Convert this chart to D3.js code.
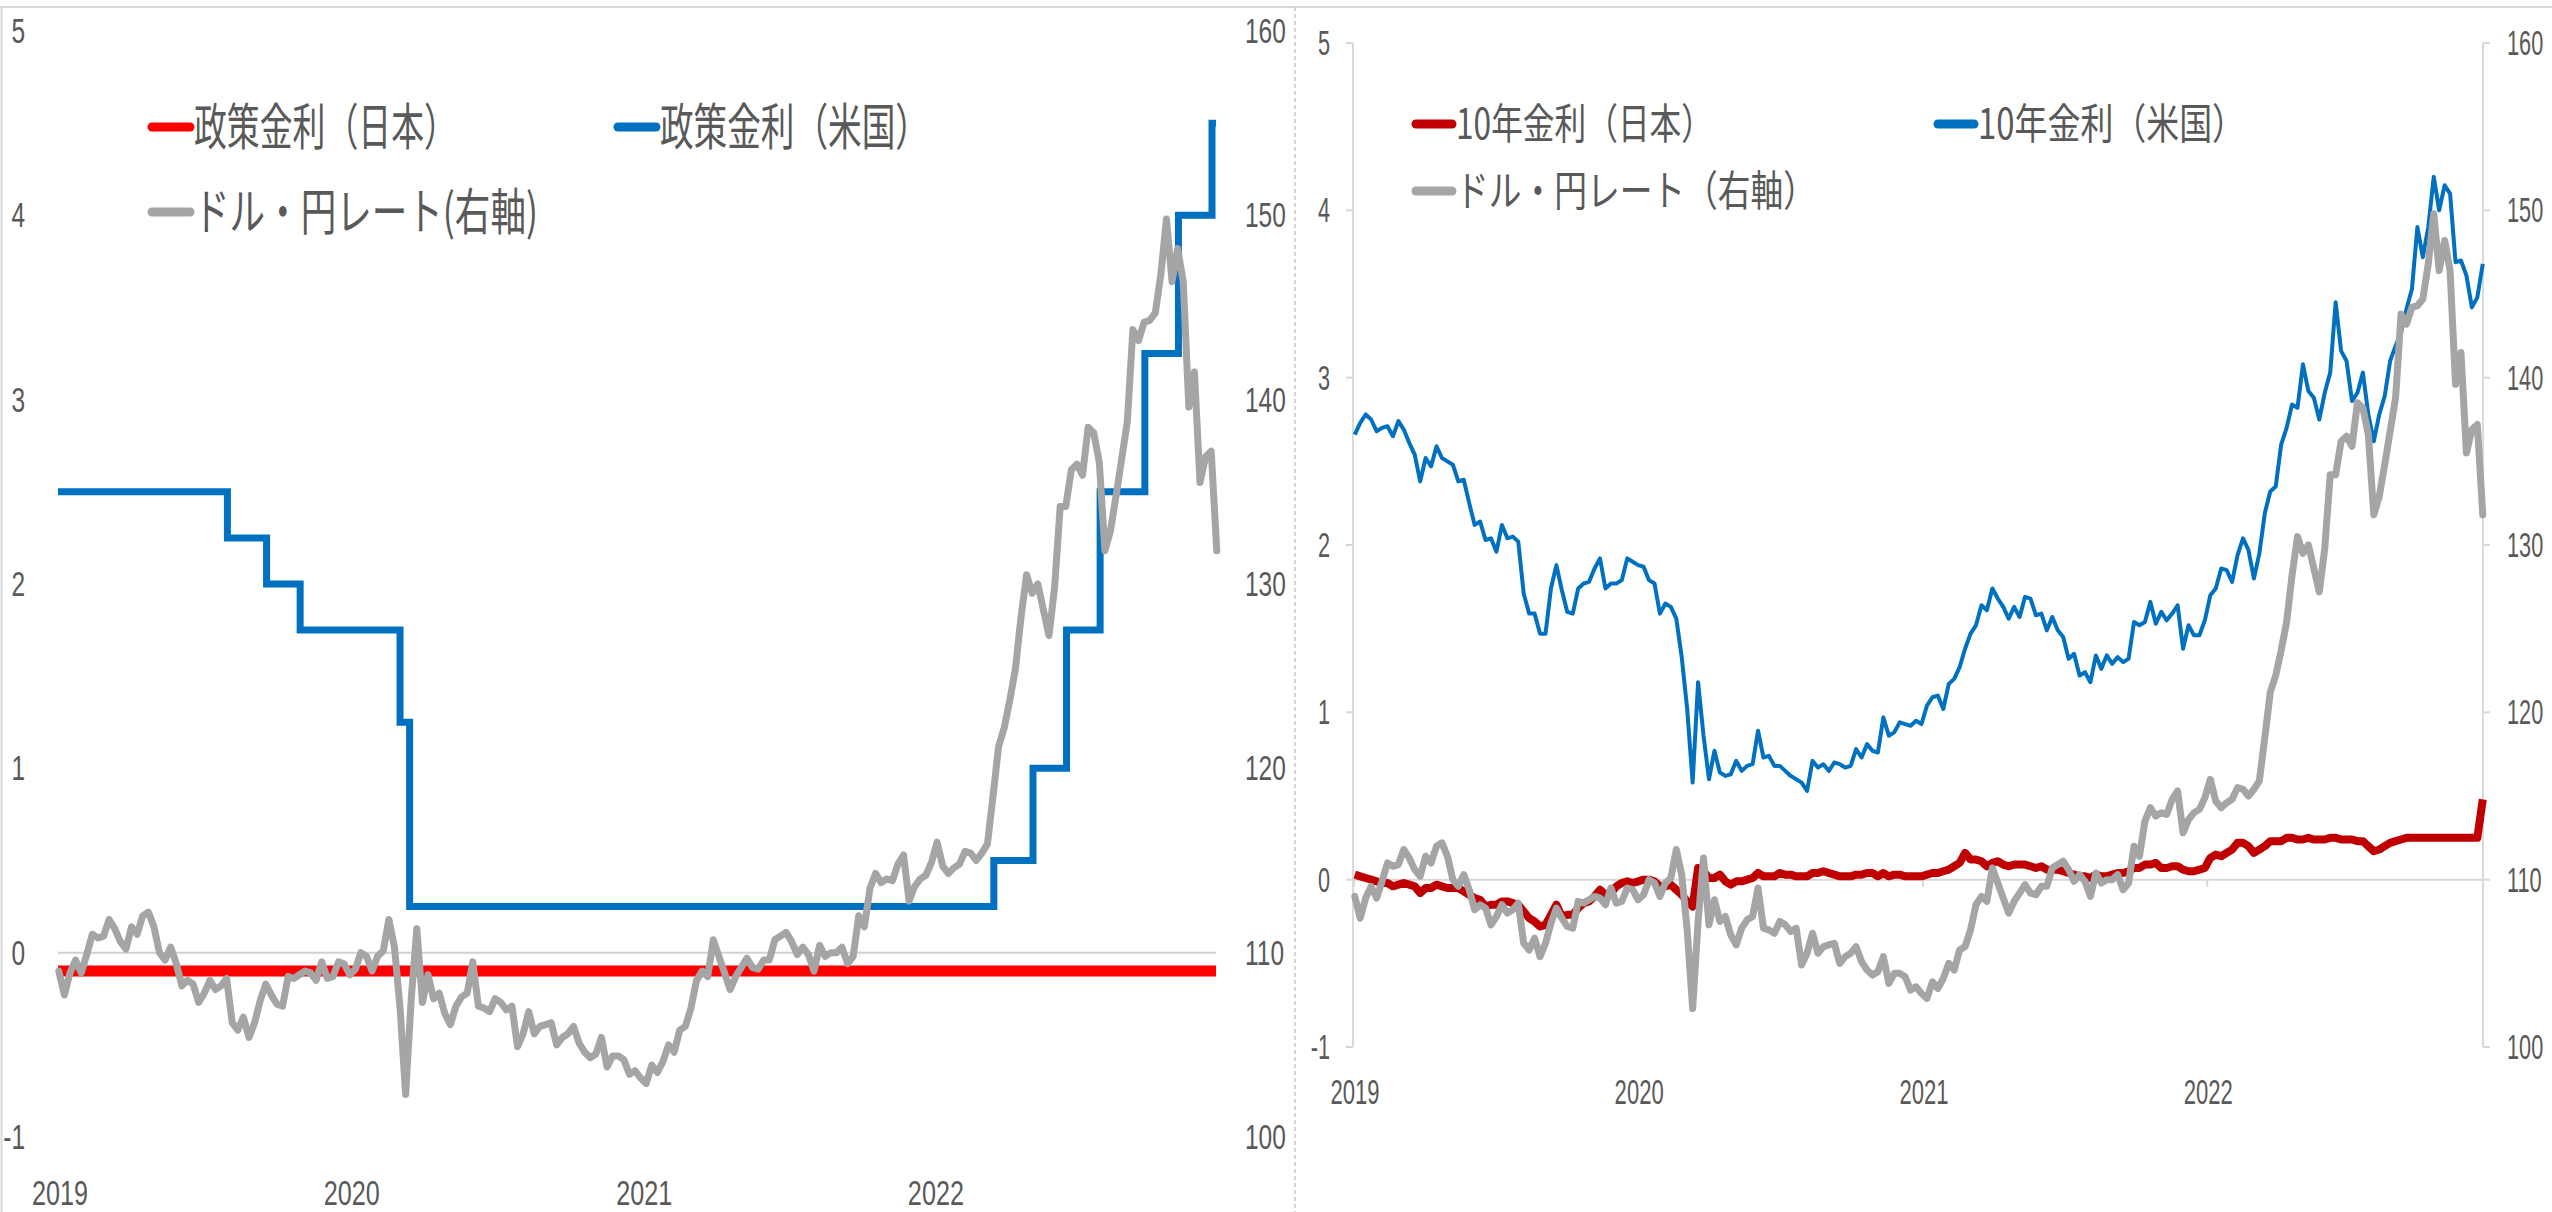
<!DOCTYPE html>
<html>
<head>
<meta charset="utf-8">
<script src="https://cdn.jsdelivr.net/npm/d3@7"></script>
<style>
  html, body { margin: 0; padding: 0; background: #fff; }
  svg { display: block; }
</style>
</head>
<body>
<svg id="chart" width="2552" height="1212"></svg>
<script>
// ---- data -------------------------------------------------------------
// weekly observations (Wednesdays) from 2019-01-02 to 2022-12-20
const firstWeek = "2019-01-02";
const lastDay = "2022-12-20";
const yearLabels = ["2019", "2020", "2021", "2022"];
const rateTicks = [-1, 0, 1, 2, 3, 4, 5];
const fxTicks = [100, 110, 120, 130, 140, 150, 160];

// USD/JPY
const usdjpy = [
  // 2019
  109.0, 107.7, 108.9, 109.6, 108.9, 109.9, 111.0, 110.8, 110.9, 111.8,
  111.3, 110.6, 110.2, 111.4, 111.0, 112.0, 112.2, 111.4, 110.0, 109.6,
  110.3, 109.4, 108.2, 108.5, 108.3, 107.3, 107.8, 108.5, 108.0, 108.2,
  108.6, 106.2, 105.8, 106.5, 105.4, 106.2, 107.4, 108.3, 107.7, 107.2,
  107.1, 108.7, 108.6, 108.8, 109.0, 108.9, 108.5, 109.5, 108.6, 108.7,
  109.5, 109.4,
  // 2020
  108.8, 109.1, 110.0, 109.8, 109.0, 109.8, 110.1, 111.8, 110.3, 107.0,
  102.3, 107.5, 111.3, 107.3, 108.8, 107.5, 107.8, 106.7, 106.1, 107.1,
  107.6, 107.8, 109.5, 107.1, 107.0, 106.8, 107.5, 107.3, 106.9, 107.1,
  104.9, 105.6, 106.8, 105.6, 106.0, 106.1, 106.2, 105.0, 105.4, 105.6,
  106.0, 105.1, 104.6, 104.3, 104.5, 105.4, 103.8, 104.4, 104.4, 104.2,
  103.4, 103.6,
  // 2021
  103.2, 102.9, 103.9, 103.5, 104.1, 105.0, 104.6, 105.8, 106.0, 107.0,
  108.5, 109.0, 108.7, 110.7, 109.8, 108.9, 108.0, 108.7, 109.2, 109.7,
  109.2, 109.1, 109.6, 109.6, 110.7, 110.9, 111.1, 110.6, 109.9, 110.3,
  109.9, 109.0, 110.4, 109.8, 110.0, 110.0, 110.3, 109.4, 109.8, 112.0,
  111.4, 113.5, 114.3, 113.8, 114.0, 113.9, 114.8, 115.3, 112.8, 113.6,
  114.0, 114.2,
  // 2022
  114.9, 116.0, 114.7, 114.3, 114.6, 114.8, 115.5, 115.4, 115.0, 115.4,
  115.9, 118.5, 121.2, 122.2, 123.7, 125.4, 128.2, 130.5, 129.5, 130.0,
  128.6, 127.2, 129.8, 134.2, 134.2, 136.2, 136.5, 135.9, 138.5, 138.2,
  136.6, 131.8, 132.9, 134.8, 136.8, 138.8, 143.8, 143.2, 144.2, 144.3,
  144.7, 146.8, 149.8, 146.4, 148.2, 146.4, 139.6, 141.5, 135.5, 136.9,
  137.2, 131.8
];

// US 10-year Treasury yield (%)
const us10y = [
  // 2019
  2.66, 2.73, 2.78, 2.75, 2.68, 2.70, 2.71, 2.65, 2.74, 2.69,
  2.61, 2.54, 2.38, 2.52, 2.47, 2.59, 2.52, 2.50, 2.48, 2.38,
  2.39, 2.25, 2.12, 2.14, 2.03, 2.04, 1.96, 2.12, 2.04, 2.05,
  2.02, 1.71, 1.59, 1.59, 1.47, 1.47, 1.74, 1.88, 1.73, 1.60,
  1.59, 1.74, 1.77, 1.78, 1.86, 1.92, 1.74, 1.77, 1.77, 1.79,
  1.92, 1.90,
  // 2020
  1.88, 1.87, 1.79, 1.77, 1.59, 1.65, 1.63, 1.56, 1.33, 1.02,
  0.58, 1.18, 0.86, 0.60, 0.77, 0.64, 0.62, 0.63, 0.71, 0.65,
  0.68, 0.69, 0.89, 0.73, 0.74, 0.68, 0.68, 0.65, 0.62, 0.60,
  0.58, 0.53, 0.71, 0.67, 0.69, 0.65, 0.70, 0.69, 0.67, 0.68,
  0.78, 0.73, 0.81, 0.77, 0.76, 0.97, 0.86, 0.88, 0.94, 0.93,
  0.92, 0.95,
  // 2021
  0.93, 1.04, 1.09, 1.10, 1.02, 1.17, 1.20, 1.27, 1.38, 1.47,
  1.52, 1.64, 1.61, 1.74, 1.68, 1.63, 1.56, 1.63, 1.57, 1.69,
  1.68, 1.58, 1.59, 1.49, 1.57, 1.49, 1.45, 1.32, 1.35, 1.22,
  1.24, 1.18, 1.34, 1.26, 1.34, 1.29, 1.33, 1.30, 1.32, 1.54,
  1.52, 1.54, 1.66, 1.53, 1.60, 1.55, 1.59, 1.64, 1.38, 1.52,
  1.46, 1.46,
  // 2022
  1.55, 1.70, 1.74, 1.86, 1.85, 1.78, 1.94, 2.04, 1.97, 1.80,
  1.95, 2.19, 2.32, 2.35, 2.60, 2.70, 2.84, 2.82, 3.08, 2.92,
  2.88, 2.75, 2.91, 3.03, 3.45, 3.16, 3.10, 2.86, 2.91, 3.03,
  2.78, 2.62, 2.78, 2.89, 3.10, 3.19, 3.27, 3.41, 3.53, 3.90,
  3.72, 3.90, 4.20, 4.00, 4.15, 4.10, 3.69, 3.70, 3.61, 3.42,
  3.48, 3.68
];

// JGB 10-year yield (%)
const jgb10y = [
  // 2019
  0.03, 0.02, 0.01, 0.00, -0.01, -0.02, -0.02, -0.04, -0.03, -0.02,
  -0.03, -0.04, -0.08, -0.05, -0.05, -0.03, -0.04, -0.05, -0.05, -0.05,
  -0.07, -0.09, -0.11, -0.12, -0.16, -0.15, -0.15, -0.13, -0.13, -0.14,
  -0.15, -0.19, -0.23, -0.25, -0.28, -0.27, -0.21, -0.15, -0.22, -0.21,
  -0.21, -0.17, -0.14, -0.13, -0.10, -0.06, -0.09, -0.08, -0.04, -0.02,
  -0.01, -0.02,
  // 2020
  -0.01, 0.00, 0.00, -0.01, -0.04, -0.04, -0.03, -0.06, -0.09, -0.13,
  -0.16, 0.07, 0.05, 0.01, 0.01, 0.03, -0.01, -0.03, -0.01, -0.01,
  0.00, 0.01, 0.04, 0.02, 0.02, 0.02, 0.04, 0.03, 0.03, 0.02,
  0.02, 0.02, 0.04, 0.04, 0.05, 0.04, 0.03, 0.02, 0.02, 0.02,
  0.03, 0.03, 0.04, 0.04, 0.02, 0.04, 0.02, 0.03, 0.03, 0.02,
  0.02, 0.02,
  // 2021
  0.02, 0.03, 0.04, 0.04, 0.05, 0.06, 0.08, 0.10, 0.16, 0.12,
  0.12, 0.11, 0.08, 0.10, 0.11, 0.09, 0.08, 0.09, 0.09, 0.09,
  0.08, 0.07, 0.08, 0.06, 0.06, 0.06, 0.05, 0.04, 0.03, 0.02,
  0.02, 0.01, 0.03, 0.02, 0.02, 0.03, 0.04, 0.04, 0.05, 0.07,
  0.07, 0.09, 0.09, 0.10, 0.07, 0.07, 0.08, 0.08, 0.06, 0.05,
  0.05, 0.06,
  // 2022
  0.07, 0.13, 0.15, 0.14, 0.16, 0.18, 0.22, 0.22, 0.20, 0.16,
  0.18, 0.20, 0.23, 0.23, 0.23, 0.25, 0.25, 0.24, 0.24, 0.25,
  0.24, 0.24, 0.24, 0.25, 0.25, 0.24, 0.24, 0.24, 0.23, 0.23,
  0.20, 0.17, 0.18, 0.20, 0.22, 0.23, 0.24, 0.25, 0.25, 0.25,
  0.25, 0.25, 0.25, 0.25, 0.25, 0.25, 0.25, 0.25, 0.25, 0.25,
  0.25, 0.48
];

// Fed funds target range, upper bound (%), effective from each date
const fedDates = ["2019-01-01", "2019-08-01", "2019-09-19", "2019-10-31", "2020-03-04",
                  "2020-03-16", "2022-03-17", "2022-05-05", "2022-06-16", "2022-07-28",
                  "2022-09-22", "2022-11-03", "2022-12-15", "2022-12-20"];
const fedUpper = [2.5, 2.25, 2.0, 1.75, 1.25, 0.25, 0.5, 1.0, 1.75, 2.5, 3.25, 4.0, 4.5, 4.5];

// BOJ policy rate (%)
const bojDates = ["2019-01-01", "2022-12-20"];
const bojRate = [-0.1, -0.1];

const legendLeft = ["政策金利（日本）", "政策金利（米国）", "ドル・円レート(右軸)"];
const legendRight = ["10年金利（日本）", "10年金利（米国）", "ドル・円レート（右軸）"];

// ---- setup ------------------------------------------------------------
const parse = d3.utcParse("%Y-%m-%d");
const start = parse(firstWeek);
const weekDates = usdjpy.map((_, i) => d3.utcDay.offset(start, 7 * i));
const xDomain = [parse("2019-01-01"), parse(lastDay)];
const yearDates = yearLabels.map(y => parse(y + "-01-01"));

const svg = d3.select("#chart");
const TEXT = "#595959";
const AXIS = "#d9d9d9";
const NUMFONT = "'Liberation Sans', Arial, sans-serif";
const JPFONT = "'Noto Sans CJK JP', 'Noto Sans', sans-serif";

svg.append("rect").attr("width", 2552).attr("height", 1212).attr("fill", "#fff");

function label(g, x, y, s, o) {
  g.append("text")
    .attr("transform", `translate(${x},${y}) scale(${o.sx},1)`)
    .attr("text-anchor", o.anchor)
    .attr("dominant-baseline", "central")
    .style("font-family", NUMFONT)
    .style("font-size", o.size + "px")
    .attr("fill", TEXT)
    .text(s);
}

function legendItem(g, x, y, color, text, size, width, mark) {
  g.append("line")
    .attr("x1", x).attr("x2", x + mark)
    .attr("y1", y + 4).attr("y2", y + 4)
    .attr("stroke", color).attr("stroke-width", 9)
    .attr("stroke-linecap", "round");
  g.append("text")
    .attr("x", x + mark + 4).attr("y", y)
    .attr("dominant-baseline", "central")
    .attr("textLength", width)
    .attr("lengthAdjust", "spacingAndGlyphs")
    .style("font-family", JPFONT)
    .style("font-size", size + "px")
    .attr("fill", TEXT)
    .text(text);
}

// frame
const frame = svg.append("g");
frame.append("line").attr("x1", 0).attr("x2", 2552).attr("y1", 7).attr("y2", 7)
  .attr("stroke", AXIS).attr("stroke-width", 2);
frame.append("line").attr("x1", 1.5).attr("x2", 1.5).attr("y1", 7).attr("y2", 1212)
  .attr("stroke", AXIS).attr("stroke-width", 2);
frame.append("line").attr("x1", 1295).attr("x2", 1295).attr("y1", 7).attr("y2", 1212)
  .attr("stroke", "#c8c8c8").attr("stroke-width", 1.5).attr("stroke-dasharray", "4,3");

// ---- left panel: policy rates ---------------------------------------
{
  const g = svg.append("g");
  const x = d3.scaleUtc().domain(xDomain).range([58, 1216]);
  const y = d3.scaleLinear().domain([-1, 5]).range([1137, 31]);
  const yFx = d3.scaleLinear().domain([100, 160]).range([1137, 31]);

  g.append("line").attr("x1", x.range()[0]).attr("x2", x.range()[1])
    .attr("y1", y(0)).attr("y2", y(0))
    .attr("stroke", "#d0d0d0").attr("stroke-width", 2);

  rateTicks.forEach(v => label(g, 25, y(v), String(v), { anchor: "end", size: 35, sx: 0.7 }));
  fxTicks.forEach(v => label(g, 1245, yFx(v), String(v), { anchor: "start", size: 35, sx: 0.7 }));
  yearDates.forEach((d, i) => label(g, x(d) + 2, 1192, yearLabels[i], { anchor: "middle", size: 35, sx: 0.72 }));

  const boj = bojDates.map((d, i) => ({ d: parse(d), v: bojRate[i] }));
  g.append("path").datum(boj)
    .attr("d", d3.line().x(p => x(p.d)).y(p => y(p.v)))
    .attr("fill", "none").attr("stroke", "#ff0000").attr("stroke-width", 11);

  const fed = fedDates.map((d, i) => ({ d: parse(d), v: fedUpper[i] }));
  g.append("path").datum(fed)
    .attr("d", d3.line().curve(d3.curveStepAfter).x(p => x(p.d)).y(p => y(p.v)))
    .attr("fill", "none").attr("stroke", "#0070c0").attr("stroke-width", 7)
    .attr("stroke-linejoin", "miter");

  g.append("path").datum(usdjpy)
    .attr("d", d3.line().x((v, i) => x(weekDates[i])).y(v => yFx(v)))
    .attr("fill", "none").attr("stroke", "#a5a5a5").attr("stroke-width", 7)
    .attr("stroke-linejoin", "round").attr("stroke-linecap", "round");

  const lg = g.append("g");
  legendItem(lg, 152, 123, "#ff0000", legendLeft[0], 50, 263, 38);
  legendItem(lg, 618, 123, "#0070c0", legendLeft[1], 50, 269, 38);
  legendItem(lg, 152, 208, "#a5a5a5", legendLeft[2], 50, 344, 38);
}

// ---- right panel: 10-year yields -------------------------------------
{
  const g = svg.append("g");
  const x = d3.scaleUtc().domain(xDomain).range([1354, 2482]);
  const y = d3.scaleLinear().domain([-1, 5]).range([1047, 43]);
  const yFx = d3.scaleLinear().domain([100, 160]).range([1047, 43]);
  const xl = 1353, xr = 2483;

  // axes
  g.append("line").attr("x1", xl).attr("x2", xl).attr("y1", y(5)).attr("y2", y(-1))
    .attr("stroke", AXIS).attr("stroke-width", 2);
  g.append("line").attr("x1", xr).attr("x2", xr).attr("y1", yFx(160)).attr("y2", yFx(100))
    .attr("stroke", AXIS).attr("stroke-width", 2);
  rateTicks.forEach(v => {
    g.append("line").attr("x1", xl - 7).attr("x2", xl).attr("y1", y(v)).attr("y2", y(v))
      .attr("stroke", AXIS).attr("stroke-width", 2);
    label(g, 1330, y(v), String(v), { anchor: "end", size: 35, sx: 0.62 });
  });
  fxTicks.forEach(v => {
    g.append("line").attr("x1", xr).attr("x2", xr + 7).attr("y1", yFx(v)).attr("y2", yFx(v))
      .attr("stroke", AXIS).attr("stroke-width", 2);
    label(g, 2507, yFx(v), String(v), { anchor: "start", size: 35, sx: 0.62 });
  });
  g.append("line").attr("x1", xl).attr("x2", xr).attr("y1", y(0)).attr("y2", y(0))
    .attr("stroke", AXIS).attr("stroke-width", 2);
  yearDates.forEach((d, i) => {
    g.append("line").attr("x1", x(d)).attr("x2", x(d)).attr("y1", y(0)).attr("y2", y(0) + 7)
      .attr("stroke", AXIS).attr("stroke-width", 2);
    label(g, x(d) + 1, 1092, yearLabels[i], { anchor: "middle", size: 35, sx: 0.63 });
  });

  g.append("path").datum(jgb10y)
    .attr("d", d3.line().x((v, i) => x(weekDates[i])).y(v => y(v)))
    .attr("fill", "none").attr("stroke", "#c00000").attr("stroke-width", 8)
    .attr("stroke-linejoin", "round");

  g.append("path").datum(us10y)
    .attr("d", d3.line().x((v, i) => x(weekDates[i])).y(v => y(v)))
    .attr("fill", "none").attr("stroke", "#0070c0").attr("stroke-width", 4)
    .attr("stroke-linejoin", "round");

  g.append("path").datum(usdjpy)
    .attr("d", d3.line().x((v, i) => x(weekDates[i])).y(v => yFx(v)))
    .attr("fill", "none").attr("stroke", "#a5a5a5").attr("stroke-width", 7)
    .attr("stroke-linejoin", "round").attr("stroke-linecap", "round");

  const lg = g.append("g");
  legendItem(lg, 1416, 120, "#c00000", legendRight[0], 42, 257, 36);
  legendItem(lg, 1938, 120, "#0070c0", legendRight[1], 42, 267, 36);
  legendItem(lg, 1416, 187, "#a5a5a5", legendRight[2], 42, 360, 36);
}
</script>
</body>
</html>
